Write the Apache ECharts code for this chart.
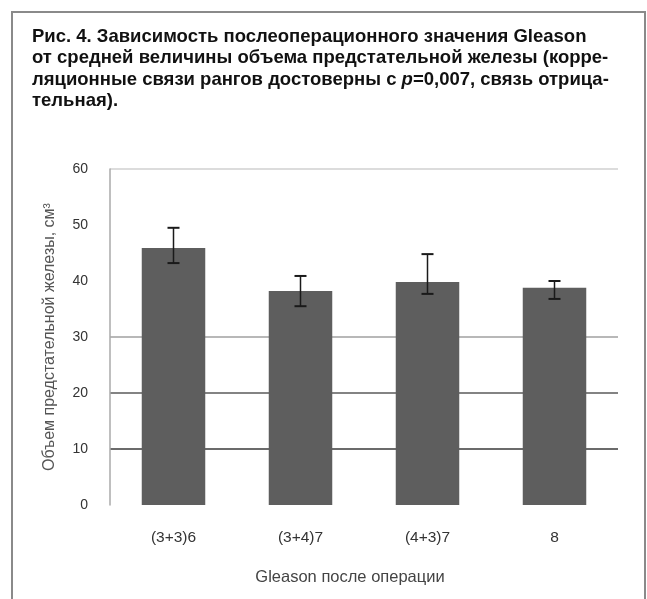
<!DOCTYPE html>
<html>
<head>
<meta charset="utf-8">
<script src="https://cdn.jsdelivr.net/npm/echarts@6/dist/echarts.min.js"></script>
<style>
html,body{margin:0;padding:0;background:#fff;}
#chart{width:647px;height:599px;}
</style>
</head>
<body>
<div id="chart"></div>
<script>
const categories = ['(3+3)6', '(3+4)7', '(4+3)7', '8'];
const values = [45.9, 38.2, 39.8, 38.8];
const errHigh = [49.5, 40.9, 44.8, 40.0];
const errLow = [43.2, 35.5, 37.7, 36.8];
const yTicks = [0, 10, 20, 30, 40, 50, 60];
const titleLines = [
  'Рис. 4. Зависимость послеоперационного значения Gleason',
  'от средней величины объема предстательной железы (корре-',
  'ляционные связи рангов достоверны с {i|p}=0,007, связь отрица-',
  'тельная).'
];
const yName = 'Объем предстательной железы, см³';
const xName = 'Gleason после операции';

const chart = echarts.init(document.getElementById('chart'));
const errData = categories.map((c, i) => [i, errLow[i], errHigh[i]]);

chart.setOption({
  animation: false,
  backgroundColor: '#fff',
  title: {
    text: titleLines.join('\n'),
    left: 27, top: 21,
    textStyle: {
      fontFamily: 'Liberation Sans', fontWeight: 'bold', fontSize: 18.5,
      color: '#111', lineHeight: 21.5,
      rich: { i: { fontStyle: 'italic', fontWeight: 'bold', fontSize: 18.5, fontFamily: 'Liberation Sans', color: '#111' } }
    }
  },
  graphic: [{
    type: 'rect', shape: { x: 12, y: 12, width: 633, height: 620 },
    style: { fill: 'none', stroke: '#8a8a8a', lineWidth: 2 }, silent: true
  }],
  grid: { left: 110, right: 29, top: 169, bottom: 94 },
  xAxis: {
    type: 'category', data: categories,
    name: xName, nameLocation: 'middle', nameGap: 64,
    nameTextStyle: { fontFamily: 'Liberation Sans', fontSize: 16.5, color: '#444', padding: [0, 28, 0, 0] },
    axisLine: { show: false }, axisTick: { show: false },
    axisLabel: { fontFamily: 'Liberation Sans', fontSize: 15.5, color: '#333', margin: 25 }
  },
  yAxis: {
    type: 'value', min: 0, max: 60, interval: 10,
    name: yName, nameLocation: 'middle', nameGap: 52,
    nameTextStyle: { fontFamily: 'Liberation Sans', fontSize: 16, color: '#555' },
    axisLine: { show: true, lineStyle: { color: '#aaa', width: 1.5 } },
    axisTick: { show: false },
    axisLabel: { fontFamily: 'Liberation Sans', fontSize: 14, color: '#333', margin: 22,
      formatter: v => yTicks.includes(v) ? String(v) : '' },
    splitLine: { show: true, lineStyle: { width: 1.5, color: ['rgba(0,0,0,0)', '#3a3a3a', '#5a5a5a', '#a0a0a0', 'rgba(0,0,0,0)', 'rgba(0,0,0,0)', '#d0d0d0'] } }
  },
  series: [{
    type: 'bar', data: values, barWidth: '50%',
    itemStyle: { color: '#5e5e5e' }
  }, {
    type: 'custom', data: errData, z: 10,
    renderItem: function (params, api) {
      const x = api.value(0);
      const lo = api.coord([x, api.value(1)]);
      const hi = api.coord([x, api.value(2)]);
      const cap = 6;
      return {
        type: 'group',
        children: [
          { type: 'line', shape: { x1: hi[0], y1: hi[1], x2: lo[0], y2: lo[1] }, style: { stroke: '#1a1a1a', lineWidth: 1.5 } },
          { type: 'line', shape: { x1: hi[0] - cap, y1: hi[1], x2: hi[0] + cap, y2: hi[1] }, style: { stroke: '#1a1a1a', lineWidth: 2 } },
          { type: 'line', shape: { x1: lo[0] - cap, y1: lo[1], x2: lo[0] + cap, y2: lo[1] }, style: { stroke: '#1a1a1a', lineWidth: 2 } }
        ]
      };
    }
  }]
});
</script>
</body>
</html>
